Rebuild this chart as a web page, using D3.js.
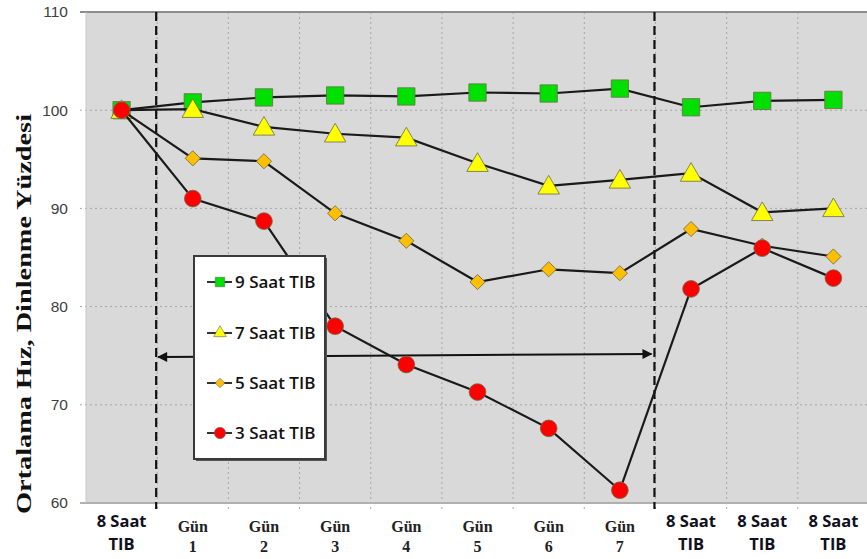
<!DOCTYPE html>
<html><head><meta charset="utf-8">
<script src="https://cdn.jsdelivr.net/npm/d3@7"></script>
<style>body{margin:0;background:#fff;}svg{display:block;}</style>
</head><body>
<svg id="c" width="867" height="559"></svg>
<script>
const categories = ["8 Saat|TIB","Gün|1","Gün|2","Gün|3","Gün|4","Gün|5","Gün|6","Gün|7","8 Saat|TIB","8 Saat|TIB","8 Saat|TIB"];
const seriesNames = ["9 Saat TIB","7 Saat TIB","5 Saat TIB","3 Saat TIB"];
const s9 = [100, 100.8, 101.3, 101.5, 101.4, 101.8, 101.7, 102.2, 100.3, 100.95, 101.05];
const s7 = [100, 100.1, 98.3, 97.6, 97.2, 94.6, 92.3, 92.9, 93.6, 89.6, 90.0];
const s5 = [100, 95.1, 94.8, 89.5, 86.7, 82.5, 83.8, 83.4, 87.9, 86.2, 85.1];
const s3 = [100, 91.0, 88.7, 78.0, 74.1, 71.3, 67.6, 61.3, 81.8, 85.95, 82.9];
const yTicks = [60, 70, 80, 90, 100, 110];
const yTitle = "Ortalama Hız, Dinlenme Yüzdesi";

const svg = d3.select("#c");
const L = 86, R = 869, T = 12, B = 503;
const x = d3.scaleBand().domain(d3.range(categories.length)).range([L, R]).paddingInner(0).paddingOuter(0);
const y = d3.scaleLinear().domain([60, 110]).range([B, T]);
const cx = i => x(i) + x.bandwidth() / 2;

// plot background
svg.append("rect").attr("x", L).attr("y", T).attr("width", R - L).attr("height", B - T).attr("fill", "#d9d9d9");

// horizontal gridlines
svg.append("g").selectAll("line").data(yTicks.filter(v => v > 60 && v < 110)).join("line")
  .attr("x1", L - 6).attr("x2", R).attr("y1", d => y(d)).attr("y2", d => y(d))
  .attr("stroke", "#a6a6a6").attr("stroke-width", 1).attr("stroke-dasharray", "2,3");
// vertical gridlines at category boundaries
const bounds = d3.range(1, categories.length).map(i => x(i));
svg.append("g").selectAll("line").data(bounds).join("line")
  .attr("x1", d => d).attr("x2", d => d).attr("y1", T).attr("y2", B + 6)
  .attr("stroke", "#a6a6a6").attr("stroke-width", 1).attr("stroke-dasharray", "2,3");
// top line and bottom axis
svg.append("line").attr("x1", L - 6).attr("x2", R).attr("y1", T).attr("y2", T).attr("stroke", "#8c8c8c").attr("stroke-width", 2);
svg.append("line").attr("x1", L - 6).attr("x2", R).attr("y1", B).attr("y2", B).attr("stroke", "#b0b0b0").attr("stroke-width", 2);
svg.append("line").attr("x1", L).attr("x2", L).attr("y1", T).attr("y2", B).attr("stroke", "#c8c8c8").attr("stroke-width", 1);

// y axis labels
const yAxis = d3.axisLeft(y).tickValues(yTicks).tickSize(0).tickPadding(18);
const gy = svg.append("g").attr("transform", `translate(${L},0)`).call(yAxis);
gy.select(".domain").remove();
gy.selectAll("text").attr("font-family", "Arial, 'Liberation Sans', sans-serif").attr("font-size", 15.5).attr("fill", "#404040");

// y title
svg.append("text").attr("transform", "translate(31,314) rotate(-90)")
  .attr("text-anchor", "middle").attr("font-family", "'Liberation Serif', 'Times New Roman', serif")
  .attr("font-weight", "bold").attr("font-size", 22).attr("fill", "#111")
  .attr("textLength", 400).attr("lengthAdjust", "spacingAndGlyphs").text(yTitle);

// x labels
const xl = svg.append("g");
categories.forEach((c, i) => {
  const parts = c.split("|");
  const isGun = parts[0] === "Gün";
  const t = xl.append("text").attr("x", cx(i)).attr("text-anchor", "middle")
    .attr("font-family", isGun ? "'Liberation Serif', serif" : "'Open Sans', sans-serif")
    .attr("font-weight", "bold").attr("font-size", isGun ? 16 : 16.5)
    .attr("fill", isGun ? "#222" : "#101020");
  t.append("tspan").attr("x", cx(i)).attr("y", isGun ? 532 : 527).text(parts[0]);
  t.append("tspan").attr("x", cx(i)).attr("y", isGun ? 552 : 550).text(parts[1]);
});

// dashed separators
[x(1), x(8)].forEach(xx => {
  svg.append("line").attr("x1", xx - 1).attr("x2", xx - 1).attr("y1", T).attr("y2", B + 6)
    .attr("stroke", "#111").attr("stroke-width", 2.2).attr("stroke-dasharray", "9,5");
});

// arrow
const defs = svg.append("defs");
defs.append("marker").attr("id", "ah").attr("viewBox", "0 0 10 10").attr("refX", 9).attr("refY", 5)
  .attr("markerWidth", 7).attr("markerHeight", 5).attr("markerUnits", "strokeWidth").attr("orient", "auto-start-reverse")
  .append("path").attr("d", "M0,0 L10,5 L0,10 Z").attr("fill", "#111");
svg.append("line").attr("x1", x(1) + 1).attr("y1", 357).attr("x2", x(8) - 4).attr("y2", 354)
  .attr("stroke", "#111").attr("stroke-width", 2).attr("marker-start", "url(#ah)").attr("marker-end", "url(#ah)");

// series
const series = [
  {name: seriesNames[0], vals: s9, shape: d3.symbolSquare, size: 300, fill: "#00e000", rot: 0, dy: 0},
  {name: seriesNames[1], vals: s7, shape: d3.symbolTriangle, size: 200, fill: "#ffff00", rot: 0, dy: 2},
  {name: seriesNames[2], vals: s5, shape: d3.symbolSquare, size: 115, fill: "#ffbf00", rot: 45, dy: 0},
  {name: seriesNames[3], vals: s3, shape: d3.symbolCircle, size: 220, fill: "#ff0000", rot: 0, dy: 0}
];
const line = d3.line().x((d, i) => cx(i)).y(d => y(d));
series.forEach(s => {
  const g = svg.append("g");
  g.append("path").attr("d", line(s.vals)).attr("fill", "none").attr("stroke", "#1a1a1a").attr("stroke-width", 2.2);
  g.selectAll("path.m").data(s.vals).join("path").attr("class", "m")
    .attr("transform", (d, i) => `translate(${cx(i)},${y(d) + s.dy}) rotate(${s.rot})`)
    .attr("d", d3.symbol().type(s.shape).size(s.size))
    .attr("fill", s.fill).attr("stroke", "#6b6b4a").attr("stroke-width", 0.8);
});

// legend
const lg = svg.append("g");
lg.append("rect").attr("x", 196).attr("y", 258).attr("width", 131).attr("height", 203).attr("fill", "#555");
lg.append("rect").attr("x", 194).attr("y", 256).attr("width", 131).attr("height", 203)
  .attr("fill", "#fff").attr("stroke", "#3a3a3a").attr("stroke-width", 2);
const ly = [282, 333, 383, 433];
const lsize = [90, 70, 45, 100];
series.forEach((s, k) => {
  lg.append("line").attr("x1", 207).attr("x2", 232).attr("y1", ly[k]).attr("y2", ly[k]).attr("stroke", "#333").attr("stroke-width", 2);
  lg.append("path").attr("transform", `translate(220,${ly[k]}) rotate(${s.rot})`)
    .attr("d", d3.symbol().type(s.shape).size(lsize[k])).attr("fill", s.fill).attr("stroke", "#666").attr("stroke-width", 0.6);
  lg.append("text").attr("x", 235).attr("y", ly[k] + 6).attr("font-family", "'Open Sans', sans-serif")
    .attr("font-weight", 600).attr("font-size", 17).attr("fill", "#111").text(s.name);
});
</script>
</body></html>
